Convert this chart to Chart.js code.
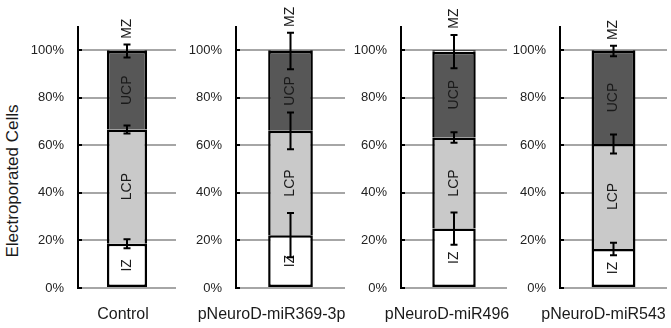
<!DOCTYPE html>
<html>
<head>
<meta charset="utf-8">
<script src="https://cdn.jsdelivr.net/npm/chart.js@4.4.1/dist/chart.umd.min.js"></script>
<style>
body { margin: 0; background: #fff; width: 671px; height: 328px; overflow: hidden; position: relative; font-family: 'Liberation Sans', Arial, sans-serif; }
canvas.panel { position: absolute; top: 0; }
#y-title { position: absolute; left: 13px; top: 181px; transform: translate(-50%, -50%) rotate(-90deg); font-size: 17px; color: #1a1a1a; white-space: nowrap; }
</style>
</head>
<body>
<div id="y-title">Electroporated Cells</div>
<canvas id="chart-0" class="panel" width="176" height="328" style="left:0px"></canvas>
<canvas id="chart-1" class="panel" width="184" height="328" style="left:176px"></canvas>
<canvas id="chart-2" class="panel" width="172" height="328" style="left:345px"></canvas>
<canvas id="chart-3" class="panel" width="164" height="328" style="left:507px"></canvas>
<script>
// data (percent of electroporated cells)
const categories = ['Control', 'pNeuroD-miR369-3p', 'pNeuroD-miR496', 'pNeuroD-miR543'];
const segmentNames = ['IZ', 'LCP', 'UCP', 'MZ'];
const izValues  = [18.6, 22.2, 25.0, 16.4];
const lcpValues = [48.1, 43.9, 38.3, 44.2];
const ucpValues = [33.0, 33.6, 36.1, 39.1];
const mzValues  = [0.3, 0.3, 0.6, 0.3];
// error bars sit on the top edge of each segment
const izErr  = [1.9, 9.3, 6.8, 2.6];
const lcpErr = [1.7, 7.7, 2.2, 4.0];
const ucpErr = [2.7, 7.7, 7.0, 2.2];
const yTicks = [0, 20, 40, 60, 80, 100];

// layout of the four panels (canvas may run past the grid to fit the long labels)
const panels = [
    { axisWidth: 78, padRight: 0, labelShift: -4 },
    { axisWidth: 60, padRight: 15, labelShift: -19 },
    { axisWidth: 56, padRight: 10, labelShift: -7 },
    { axisWidth: 53, padRight: 4, labelShift: -10 }
];

const FONT = "'Liberation Sans', Arial, sans-serif";
const TEXT = '#1a1a1a';
const fills = ['#ffffff', '#c9c9c9', '#575757', '#ffffff'];

Chart.defaults.font.family = FONT;
Chart.defaults.color = TEXT;

function makePlugin(i) {
    return {
        id: 'panelExtras' + i,
        afterDatasetsDraw(chart) {
            const ctx = chart.ctx;
            const y = chart.scales.y;
            const area = chart.chartArea;
            const series = [izValues, lcpValues, ucpValues, mzValues];
            const errs = [izErr, lcpErr, ucpErr];

            ctx.save();
            // small black tick marks just inside the axis
            ctx.strokeStyle = '#000';
            ctx.lineWidth = 2;
            yTicks.forEach(t => {
                const py = Math.round(y.getPixelForValue(t));
                ctx.beginPath();
                ctx.moveTo(area.left, py);
                ctx.lineTo(area.left + 4, py);
                ctx.stroke();
            });

            // segment labels, rotated
            ctx.fillStyle = TEXT;
            ctx.font = '14px ' + FONT;
            ctx.textBaseline = 'middle';
            for (let k = 0; k < 3; k++) {
                const bar = chart.getDatasetMeta(k).data[0];
                ctx.save();
                ctx.translate(bar.x, (bar.y + bar.base) / 2);
                ctx.rotate(-Math.PI / 2);
                ctx.textAlign = 'center';
                ctx.fillText(segmentNames[k], 0, 0);
                ctx.restore();
            }

            // error bars
            let cum = 0;
            const x = chart.getDatasetMeta(0).data[0].x;
            for (let k = 0; k < 3; k++) {
                cum += series[k][i];
                const e = errs[k][i];
                const top = y.getPixelForValue(cum + e);
                const bot = y.getPixelForValue(cum - e);
                ctx.beginPath();
                ctx.moveTo(x, top); ctx.lineTo(x, bot);
                ctx.moveTo(x - 3.5, top); ctx.lineTo(x + 3.5, top);
                ctx.moveTo(x - 3.5, bot); ctx.lineTo(x + 3.5, bot);
                ctx.stroke();
            }

            // MZ label above the top error bar
            const total = cum + mzValues[i];
            const anchor = y.getPixelForValue(total + ucpErr[i]) - 5;
            ctx.save();
            ctx.translate(x, anchor);
            ctx.rotate(-Math.PI / 2);
            ctx.textAlign = 'left';
            ctx.fillText(segmentNames[3], 0, 0);
            ctx.restore();
            ctx.restore();
        }
    };
}

function makeChart(i) {
    const p = panels[i];
    const series = [izValues, lcpValues, ucpValues, mzValues];
    const datasets = series.map((vals, k) => ({
        label: segmentNames[k],
        data: [vals[i]],
        backgroundColor: fills[k],
        borderColor: '#000',
        borderWidth: 2.5,
        borderSkipped: k === 0 ? false : 'start',
        barPercentage: 0.41,
        categoryPercentage: 1
    }));

    return new Chart(document.getElementById('chart-' + i), {
        type: 'bar',
        data: { labels: [categories[i]], datasets },
        options: {
            responsive: false,
            animation: false,
            layout: { padding: { top: 26.5, right: p.padRight, left: 0, bottom: 0 } },
            plugins: { legend: { display: false }, tooltip: { enabled: false } },
            scales: {
                x: {
                    stacked: true,
                    grid: { display: false },
                    border: { display: false },
                    ticks: { font: { size: 16 }, color: TEXT, padding: 9, labelOffset: p.labelShift, maxRotation: 0, autoSkip: false },
                    afterFit(scale) {
                        scale.height = 40;
                        // long labels must not squeeze the plot area
                        scale.paddingLeft = 0;
                        scale.paddingRight = 0;
                    }
                },
                y: {
                    stacked: true,
                    min: 0,
                    max: 110,
                    grid: { color: '#a6a6a6', lineWidth: 2, drawTicks: false },
                    border: { color: '#000', width: 2 },
                    ticks: {
                        stepSize: 20,
                        includeBounds: false,
                        padding: 14,
                        font: { size: 13 },
                        color: '#222',
                        callback: v => v + '%'
                    },
                    afterFit(scale) { scale.width = p.axisWidth; }
                }
            }
        },
        plugins: [makePlugin(i)]
    });
}

categories.forEach((_, i) => makeChart(i));
</script>
</body>
</html>
